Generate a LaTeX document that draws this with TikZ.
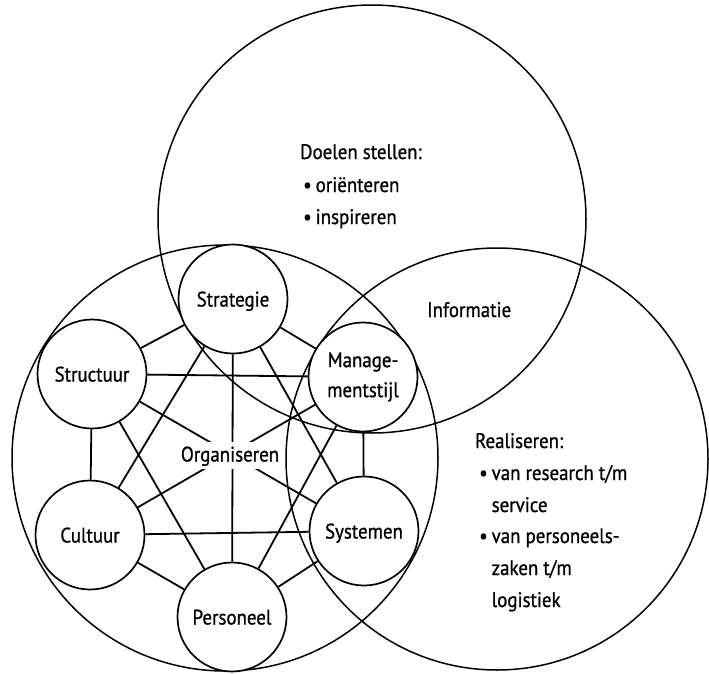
\documentclass[tikz,border=0pt]{standalone}
\usepackage{fontspec}
\setmainfont{PT Sans}[FakeStretch=0.9, FakeBold=0.9]
\pgfdeclarelayer{bg}
\pgfdeclarelayer{edg}
\pgfsetlayers{bg,edg,main}
\newcommand\bul{\makebox[12.5pt][l]{\textbullet}}
\begin{document}
\begin{tikzpicture}[x=1pt,y=-1pt,
  bigc/.style={line width=1.5pt},
  unit/.style={circle, draw, fill=white, line width=1.7pt, minimum size=109pt, inner sep=0pt, align=center, font=\fontsize{21}{30}\selectfont},
  one/.style={text height=15pt, text depth=0pt},
  link/.style={line width=1.8pt},
  txt/.style={anchor=base west, inner sep=0pt, font=\fontsize{21}{24}\selectfont}]
\useasboundingbox (0,0) rectangle (709,674);
% small circles
\node[unit,one] (str) at (233,299) {Strategie};
\node[unit,one] (stc) at (92,374) {Structuur};
\node[unit,one] (cul) at (90,535) {Cultuur};
\node[unit,one] (per) at (232,617) {Personeel};
\node[unit] (man) at (363,377) {Manage-\\mentstijl};
\node[unit,one] (sys) at (364,531) {Systemen};
\node[fill=white, inner xsep=4pt, inner ysep=5pt, text height=15pt, text depth=2pt, font=\fontsize{21}{24}\selectfont] (org) at (230,455) {Organiseren};
% texts
\node[txt] (doel) at (300,159) {Doelen stellen:};
\node[txt] (ori) at (303,192) {\bul oriënteren};
\node[txt] (insp) at (303,224) {\bul inspireren};
\node[txt] (info) at (427,317) {Informatie};
\node[txt] (real) at (475,448) {Realiseren:};
\node[txt] (r1) at (479,480) {\bul van research t/m};
\node[txt] (r2) at (491.5,512) {service};
\node[txt] (r3) at (479,543) {\bul van personeels-};
\node[txt] (r4) at (491.5,575) {zaken t/m};
\node[txt] (r5) at (491.5,607) {logistiek};
% big circles
\begin{pgfonlayer}{bg}
\draw[bigc] (372,219) circle[radius=214pt];
\draw[bigc] (225,458) circle[radius=213pt];
\draw[bigc] (497,459) circle[radius=211pt];
\end{pgfonlayer}
% connectors
\begin{pgfonlayer}{edg}
\foreach \a/\b in {str/stc, str/man, str/cul, str/per, str/sys, stc/man, stc/cul, stc/per, stc/sys, cul/per, cul/sys, cul/man, per/man, per/sys, man/sys}
  \draw[link] (\a) -- (\b);
\end{pgfonlayer}
\end{tikzpicture}
\end{document}
